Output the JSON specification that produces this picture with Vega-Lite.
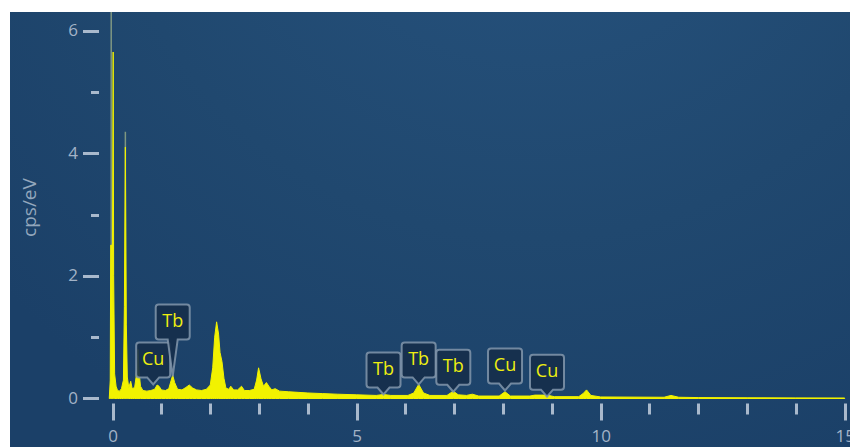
{
  "$schema": "https://vega.github.io/schema/vega-lite/v6.json",
  "width": 840,
  "height": 435,
  "autosize": {"type": "none"},
  "padding": {"left": 10, "top": 12, "right": 0, "bottom": 0},
  "background": "#ffffff",
  "config": {
    "view": {"stroke": "#0e1e30", "strokeWidth": 1},
    "font": "Open Sans"
  },
  "datasets": {
    "spectrum": [
      {"keV": -0.07, "cps": 0},
      {"keV": -0.05, "cps": 0.3},
      {"keV": -0.04, "cps": 2.5},
      {"keV": -0.02, "cps": 2.5},
      {"keV": -0.01, "cps": 1.2},
      {"keV": 0.01, "cps": 5.65},
      {"keV": 0.02, "cps": 2.0},
      {"keV": 0.04, "cps": 0.4},
      {"keV": 0.07, "cps": 0.2},
      {"keV": 0.1, "cps": 0.13},
      {"keV": 0.14, "cps": 0.12},
      {"keV": 0.18, "cps": 0.16},
      {"keV": 0.22, "cps": 0.3},
      {"keV": 0.24, "cps": 1.5},
      {"keV": 0.26, "cps": 4.1},
      {"keV": 0.28, "cps": 1.2},
      {"keV": 0.3, "cps": 0.35},
      {"keV": 0.33, "cps": 0.18},
      {"keV": 0.37, "cps": 0.28},
      {"keV": 0.4, "cps": 0.16},
      {"keV": 0.45, "cps": 0.18},
      {"keV": 0.48, "cps": 0.35},
      {"keV": 0.5, "cps": 0.6},
      {"keV": 0.52, "cps": 0.8},
      {"keV": 0.54, "cps": 0.45},
      {"keV": 0.57, "cps": 0.2},
      {"keV": 0.62, "cps": 0.13},
      {"keV": 0.7, "cps": 0.12},
      {"keV": 0.78, "cps": 0.13},
      {"keV": 0.86, "cps": 0.15},
      {"keV": 0.91, "cps": 0.22},
      {"keV": 0.95, "cps": 0.2},
      {"keV": 1.0, "cps": 0.14},
      {"keV": 1.08, "cps": 0.13},
      {"keV": 1.15, "cps": 0.16},
      {"keV": 1.2, "cps": 0.3},
      {"keV": 1.23, "cps": 0.38},
      {"keV": 1.27, "cps": 0.26},
      {"keV": 1.33, "cps": 0.15},
      {"keV": 1.42, "cps": 0.14},
      {"keV": 1.5, "cps": 0.18},
      {"keV": 1.57, "cps": 0.22},
      {"keV": 1.64, "cps": 0.17},
      {"keV": 1.72, "cps": 0.14},
      {"keV": 1.82, "cps": 0.13},
      {"keV": 1.92, "cps": 0.15},
      {"keV": 2.0, "cps": 0.22},
      {"keV": 2.05, "cps": 0.5},
      {"keV": 2.09, "cps": 1.0},
      {"keV": 2.13, "cps": 1.25},
      {"keV": 2.17, "cps": 1.05},
      {"keV": 2.2, "cps": 0.75},
      {"keV": 2.24, "cps": 0.6},
      {"keV": 2.28, "cps": 0.33},
      {"keV": 2.32, "cps": 0.17},
      {"keV": 2.38, "cps": 0.15},
      {"keV": 2.42, "cps": 0.2},
      {"keV": 2.48, "cps": 0.14},
      {"keV": 2.56, "cps": 0.14},
      {"keV": 2.64, "cps": 0.2},
      {"keV": 2.7, "cps": 0.13},
      {"keV": 2.8, "cps": 0.13},
      {"keV": 2.9, "cps": 0.15},
      {"keV": 2.95, "cps": 0.3},
      {"keV": 2.99, "cps": 0.5},
      {"keV": 3.04, "cps": 0.32},
      {"keV": 3.09, "cps": 0.2},
      {"keV": 3.15, "cps": 0.26},
      {"keV": 3.2, "cps": 0.2},
      {"keV": 3.26, "cps": 0.14},
      {"keV": 3.33, "cps": 0.16},
      {"keV": 3.42, "cps": 0.12},
      {"keV": 3.6, "cps": 0.11},
      {"keV": 3.8, "cps": 0.1},
      {"keV": 4.0, "cps": 0.09},
      {"keV": 4.3, "cps": 0.08},
      {"keV": 4.6, "cps": 0.07},
      {"keV": 5.0, "cps": 0.06},
      {"keV": 5.4, "cps": 0.05},
      {"keV": 5.55, "cps": 0.065},
      {"keV": 5.7, "cps": 0.05},
      {"keV": 6.05, "cps": 0.05},
      {"keV": 6.17, "cps": 0.09},
      {"keV": 6.27, "cps": 0.23},
      {"keV": 6.37, "cps": 0.09},
      {"keV": 6.5, "cps": 0.05},
      {"keV": 6.85, "cps": 0.05},
      {"keV": 6.98, "cps": 0.12},
      {"keV": 7.08, "cps": 0.06},
      {"keV": 7.25, "cps": 0.05},
      {"keV": 7.37, "cps": 0.07},
      {"keV": 7.5, "cps": 0.04},
      {"keV": 7.92, "cps": 0.04},
      {"keV": 8.04, "cps": 0.11},
      {"keV": 8.15, "cps": 0.04},
      {"keV": 8.55, "cps": 0.04},
      {"keV": 8.65, "cps": 0.055},
      {"keV": 8.9, "cps": 0.055},
      {"keV": 9.05, "cps": 0.03},
      {"keV": 9.55, "cps": 0.03},
      {"keV": 9.64, "cps": 0.08},
      {"keV": 9.71, "cps": 0.14},
      {"keV": 9.8, "cps": 0.05},
      {"keV": 10.0, "cps": 0.025},
      {"keV": 11.3, "cps": 0.02},
      {"keV": 11.44, "cps": 0.05},
      {"keV": 11.6, "cps": 0.02},
      {"keV": 12.0, "cps": 0.015},
      {"keV": 13.0, "cps": 0.012},
      {"keV": 14.0, "cps": 0.01},
      {"keV": 15.0, "cps": 0.008}
    ],
    "ghost": [
      {"keV": -0.03, "base": 0, "top": 6.4},
      {"keV": 0.26, "base": 0, "top": 4.35}
    ],
    "panel": [
      {"x0": -2.104, "x1": 15.109, "y0": -0.791, "y1": 6.302}
    ],
    "labels": [
      {"el": "Cu", "keV": 0.83, "tip": 0.23, "kind": "short"},
      {"el": "Tb", "keV": 1.23, "tip": 0.36, "kind": "tall"},
      {"el": "Tb", "keV": 5.55, "tip": 0.065, "kind": "short"},
      {"el": "Tb", "keV": 6.27, "tip": 0.23, "kind": "short"},
      {"el": "Tb", "keV": 6.98, "tip": 0.11, "kind": "short"},
      {"el": "Cu", "keV": 8.04, "tip": 0.13, "kind": "short"},
      {"el": "Cu", "keV": 8.9, "tip": 0.03, "kind": "short"}
    ]
  },
  "layer": [
    {
      "data": {"name": "panel"},
      "mark": {
        "type": "rect",
        "color": {
          "gradient": "radial",
          "x1": 0.62, "y1": 0.0, "r1": 0,
          "x2": 0.62, "y2": 0.0, "r2": 0.85,
          "stops": [
            {"offset": 0, "color": "#275480"},
            {"offset": 0.6, "color": "#20486f"},
            {"offset": 1, "color": "#1b4068"}
          ]
        }
      },
      "encoding": {
        "x": {"field": "x0", "type": "quantitative", "scale": {"domain": [-2.104, 15.109], "nice": false, "zero": false}},
        "x2": {"field": "x1"},
        "y": {"field": "y0", "type": "quantitative", "scale": {"domain": [-0.791, 6.302], "nice": false, "zero": false}},
        "y2": {"field": "y1"}
      }
    },
    {
      "data": {"name": "ghost"},
      "mark": {"type": "rule", "color": "#a7b98a", "opacity": 0.7, "strokeWidth": 1.5, "clip": true},
      "encoding": {
        "x": {"field": "keV", "type": "quantitative"},
        "y": {"field": "base", "type": "quantitative"},
        "y2": {"field": "top"}
      }
    },
    {
      "data": {"name": "spectrum"},
      "mark": {"type": "area", "color": "#f2f200", "stroke": "#f2f200", "strokeWidth": 1, "clip": true},
      "encoding": {
        "x": {
          "field": "keV", "type": "quantitative",
          "axis": {
            "orient": "bottom",
            "offset": -44,
            "zindex": 1,
            "values": [0,0.5,1,1.5,2,2.5,3,3.5,4,4.5,5,5.5,6,6.5,7,7.5,8,8.5,9,9.5,10,10.5,11,11.5,12,12.5,13,13.5,14,14.5,15],
            "labelExpr": "datum.value % 5 === 0 ? datum.label : ''",
            "domain": false,
            "grid": false,
            "title": null,
            "tickColor": "#a9b9cc",
            "tickWidth": 3,
            "tickSize": {"expr": "datum.value % 5 === 0 ? 17 : (datum.value % 1 === 0 ? 11 : 7)"},
            "labelColor": "#a3b3c7",
            "labelFont": "Open Sans",
            "labelFontSize": 17,
            "labelPadding": 8,
            "labelFlush": false,
            "labelOverlap": false
          }
        },
        "y": {
          "field": "cps", "type": "quantitative",
          "axis": {
            "orient": "left",
            "offset": -88.5,
            "zindex": 1,
            "values": [0,0.5,1,1.5,2,2.5,3,3.5,4,4.5,5,5.5,6],
            "format": "d",
            "labelExpr": "datum.value % 2 === 0 ? datum.label : ''",
            "domain": false,
            "grid": false,
            "title": "cps/eV",
            "titleColor": "#93a7bd",
            "titleFont": "Open Sans",
            "titleFontSize": 19,
            "titleFontWeight": "normal",
            "titleAngle": -90,
            "titleAlign": "center",
            "titleBaseline": "middle",
            "titleX": -69.5,
            "titleY": 195,
            "tickColor": "#a9b9cc",
            "tickWidth": 3,
            "tickSize": {"expr": "datum.value % 2 === 0 ? 16 : 8"},
            "labelColor": "#a3b3c7",
            "labelFont": "Open Sans",
            "labelFontSize": 17,
            "labelPadding": 5,
            "labelOverlap": false
          }
        },
        "y2": {"datum": 0}
      }
    },
    {
      "data": {"name": "labels"},
      "mark": {"type": "point", "filled": true, "size": 4, "fill": "#162f4c", "fillOpacity": 0.92, "stroke": "#8396ab", "strokeOpacity": 0.85, "strokeWidth": 2, "opacity": 1},
      "encoding": {
        "x": {"field": "keV", "type": "quantitative"},
        "y": {"field": "tip", "type": "quantitative"},
        "shape": {
          "field": "kind", "type": "nominal", "legend": null,
          "scale": {
            "domain": ["short", "tall"],
            "range": [
              "M0,0L-6,-7L-14,-7Q-17,-7,-17,-10L-17,-39Q-17,-42,-14,-42L14,-42Q17,-42,17,-39L17,-10Q17,-7,14,-7L6,-7Z",
              "M0,0L-5,-37L-14,-37Q-17,-37,-17,-40L-17,-69Q-17,-72,-14,-72L14,-72Q17,-72,17,-69L17,-40Q17,-37,14,-37L5,-37Z"
            ]
          }
        }
      }
    },
    {
      "data": {"name": "labels"},
      "transform": [{"filter": "datum.kind === 'short'"}],
      "mark": {"type": "text", "color": "#eeee10", "font": "Open Sans", "fontSize": 18, "baseline": "middle", "align": "center", "dy": -24.5},
      "encoding": {
        "x": {"field": "keV", "type": "quantitative"},
        "y": {"field": "tip", "type": "quantitative"},
        "text": {"field": "el"}
      }
    },
    {
      "data": {"name": "labels"},
      "transform": [{"filter": "datum.kind === 'tall'"}],
      "mark": {"type": "text", "color": "#eeee10", "font": "Open Sans", "fontSize": 18, "baseline": "middle", "align": "center", "dy": -54.5},
      "encoding": {
        "x": {"field": "keV", "type": "quantitative"},
        "y": {"field": "tip", "type": "quantitative"},
        "text": {"field": "el"}
      }
    }
  ]
}
